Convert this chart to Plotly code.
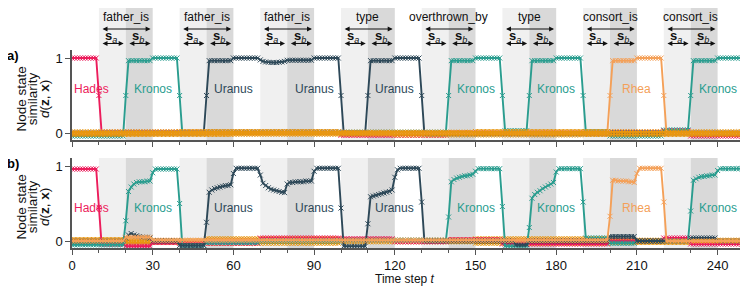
import plotly.graph_objects as go

# ---------------- data (time steps 0..250) ----------------
T = list(range(0, 251))

# run-length lists: (value, count) or single value or explicit list
HADES_A = [(1.0, 10), 0.5, (0.01, 89), (-0.03, 40), (0.0, 60), (0.01, 20), (0.03, 10), (-0.04, 21)]
KRONOS_A = [(-0.04, 20), 0.5, (0.965, 9), (1.0, 10), 0.5, (0.0, 9), (0.01, 90), 0.5, (0.965, 9), (1.0, 10),
            0.5, (0.03, 9), 0.5, (0.965, 9), (1.0, 10), 0.5, (0.02, 9), (-0.04, 20), (0.04, 10), 0.5,
            (0.965, 9), (1.0, 11)]
URANUS_A = [(0.0, 50), 0.5, (0.965, 9), (1.0, 10),
            [0.975, 0.955, 0.948, 0.943, 0.94, 0.94, 0.94, 0.943, 0.948, 0.955],
            (0.97, 10), (1.0, 10), 0.5, (0.0, 9), 0.5, (0.965, 9), (1.0, 10), 0.5, (-0.01, 69),
            (0.0, 10), (0.0, 41)]
RHEA_A = [(0.0, 200), 0.5, (0.965, 9), (1.0, 10), 0.5, (0.0, 30)]
OTHER1_A = [(0.015, 40), (0.02, 60), (0.01, 50), (0.02, 50), (0.015, 51)]
OTHER2_A = [(-0.02, 60), (-0.015, 60), (-0.025, 70), (-0.02, 61)]

HADES_B = [(0.96, 10), 0.45, (-0.04, 9), (-0.07, 10), (-0.02, 10), (-0.03, 30), (0.04, 30), (0.03, 20),
           (-0.01, 20), (0.02, 20), (-0.04, 40), (0.0, 20), (0.04, 10), (-0.04, 21)]
KRONOS_B = [(-0.05, 20), 0.27, 0.66, 0.72, 0.76, [0.78, 0.79, 0.79, 0.79, 0.80, 0.80], 0.91, (0.96, 9), 0.5,
            (-0.06, 9), (-0.02, 20), (0.0, 30), (0.01, 40), 0.32,
            [0.79, 0.82, 0.84, 0.85, 0.86, 0.87, 0.87, 0.88, 0.89], 0.93, (0.965, 9), 0.46, (-0.07, 9), 0.18,
            [0.57, 0.62, 0.65, 0.67, 0.70, 0.72, 0.74, 0.76, 0.78], 0.92, (0.965, 9), 0.52, (0.04, 9),
            (-0.03, 10), (0.0, 20), 0.40, [0.81, 0.83, 0.85, 0.86, 0.86, 0.87, 0.87, 0.88, 0.88], 0.94,
            (0.965, 10)]
URANUS_B = [(0.0, 20), [0.04, 0.08, 0.10, 0.08, 0.07, 0.06, 0.05, 0.05, 0.05, 0.04], (0.0, 10), (-0.06, 10),
            0.25, [0.65, 0.68, 0.70, 0.71, 0.72, 0.73, 0.74, 0.74, 0.75], 0.9, (0.97, 9),
            [0.88, 0.77, 0.74, 0.71, 0.69, 0.68, 0.67, 0.66, 0.65, 0.645], 0.76,
            [0.78, 0.78, 0.79, 0.79, 0.79, 0.79, 0.80, 0.80, 0.80], 0.93, (0.97, 9), 0.44, (-0.07, 9), 0.23,
            [0.59, 0.60, 0.61, 0.62, 0.63, 0.64, 0.65, 0.66, 0.68], 0.85, 0.95, (0.97, 8), 0.52, (0.0, 34),
            (-0.05, 5), (0.0, 30), (0.06, 10), (0.0, 20), (0.04, 10), (0.0, 11)]
RHEA_B = [(0.0, 20), (0.05, 10), (0.01, 170), 0.33, [0.81, 0.81, 0.80, 0.80, 0.80, 0.80, 0.79, 0.79, 0.78],
          0.9, (0.97, 9), 0.52, (0.0, 30)]
OTHER1_B = [(0.02, 30), (0.0, 20), (0.03, 50), (0.01, 50), (0.03, 50), (0.01, 51)]
OTHER2_B = [(-0.02, 50), (-0.03, 50), (-0.01, 50), (-0.03, 50), (-0.02, 51)]

RELATIONS = ["father_is", "father_is", "father_is", "type", "overthrown_by", "type", "consort_is", "consort_is"]
PERIOD_STARTS = [10, 40, 70, 100, 130, 160, 190, 220]
LABELS = ["Hades", "Kronos", "Uranus", "Uranus", "Uranus", "Kronos", "Kronos", "Rhea", "Kronos"]
LABEL_T = [7.3, 30, 60, 90, 120, 150, 180, 210, 240]
X_TICKS = [0, 30, 60, 90, 120, 150, 180, 210, 240]


def expand(runs):
    out = []
    for r in runs:
        if isinstance(r, tuple):
            out += [r[0]] * r[1]
        elif isinstance(r, list):
            out += r
        else:
            out.append(r)
    return out


COL = {"Hades": "#ec1c5b", "Kronos": "#2a9d8f", "Uranus": "#2d4858", "Rhea": "#f4a058", "other": "#e8960f"}
FONT = "Liberation Sans, Arial, Helvetica, sans-serif"

fig = go.Figure()


def add_series(y_runs, color, xa, ya, width=1.9):
    fig.add_trace(go.Scatter(
        x=T, y=expand(y_runs), mode="lines+markers", xaxis=xa, yaxis=ya,
        line=dict(color=color, width=width),
        marker=dict(symbol="x-thin", size=5, color=color, line=dict(width=1, color=color)),
        showlegend=False, hoverinfo="skip"))


# panel a
add_series(HADES_A, COL["Hades"], "x", "y")
add_series(KRONOS_A, COL["Kronos"], "x", "y")
add_series(URANUS_A, COL["Uranus"], "x", "y")
add_series(RHEA_A, COL["Rhea"], "x", "y")
add_series(OTHER1_A, COL["other"], "x", "y")
add_series(OTHER2_A, COL["other"], "x", "y")
# panel b
add_series(OTHER1_B, COL["other"], "x2", "y2")
add_series(OTHER2_B, COL["other"], "x2", "y2")
add_series(HADES_B, COL["Hades"], "x2", "y2")
add_series(KRONOS_B, COL["Kronos"], "x2", "y2")
add_series(URANUS_B, COL["Uranus"], "x2", "y2")
add_series(RHEA_B, COL["Rhea"], "x2", "y2")

# page is shown with an 8px body margin: window coords -> figure coords
OFF = 8
W, H = 748, 295
ML, MR, MT, MB = 64, 0, 42, 55
PW, PH = W - ML - MR, H - MT - MB
XR = [0, PW / 2.69]


def py(wy):  # window pixel y -> paper y
    return (H - MB - (wy - OFF)) / PH


def px(wx):  # window pixel x -> paper x
    return (wx - OFF - ML) / PW


A_DOM = [py(140), 1.0]
B_DOM = [0.0, py(158)]
YR = [-0.093, 1.107]

shapes = []
for s in PERIOD_STARTS:
    for (x0, x1, c) in [(s, s + 10, "#f0f0f0"), (s + 10, s + 20, "#d9d9d9")]:
        shapes.append(dict(type="rect", xref="x", yref="paper", x0=x0, x1=x1, y0=A_DOM[0], y1=py(8),
                           fillcolor=c, line=dict(width=0), layer="below"))
        shapes.append(dict(type="rect", xref="x2", yref="paper", x0=x0, x1=x1, y0=B_DOM[0], y1=B_DOM[1],
                           fillcolor=c, line=dict(width=0), layer="below"))

ann = []
txtc = "#111111"
for s, rel in zip(PERIOD_STARTS, RELATIONS):
    ann.append(dict(text=rel, x=s + 10, y=py(17), xref="x", yref="paper", showarrow=False,
                    font=dict(size=12, color=txtc, family=FONT), xanchor="center", yanchor="middle"))
    for (a0, a1, yy) in [(s + 0.8, s + 19.2, 29), (s + 0.8, s + 9.2, 43.5), (s + 10.8, s + 19.2, 43.5)]:
        ann.append(dict(text="", x=a1, y=py(yy), xref="x", yref="paper", ax=a0, axref="x", ay=0,
                        ayref="pixel", showarrow=True, arrowside="end+start", arrowhead=2, arrowsize=0.9,
                        arrowwidth=1.1, arrowcolor="#111111", standoff=0, startstandoff=0))
    ann.append(dict(text="<b>s</b><sub><i>a</i></sub>", x=s + 4.5, y=py(37), xref="x", yref="paper",
                    showarrow=False, font=dict(size=13, color=txtc, family=FONT), xanchor="center",
                    yanchor="middle"))
    ann.append(dict(text="<b>s</b><sub><i>b</i></sub>", x=s + 14.7, y=py(37), xref="x", yref="paper",
                    showarrow=False, font=dict(size=13, color=txtc, family=FONT), xanchor="center",
                    yanchor="middle"))

for lab, t in zip(LABELS, LABEL_T):
    ann.append(dict(text=lab, x=t, y=0.583, xref="x", yref="y", showarrow=False,
                    font=dict(size=12, color=COL[lab], family=FONT), xanchor="center", yanchor="middle"))
    ann.append(dict(text=lab, x=t, y=0.436, xref="x2", yref="y2", showarrow=False,
                    font=dict(size=12, color=COL[lab], family=FONT), xanchor="center", yanchor="middle"))

for lab, ypix in [("<b>a)</b>", 56), ("<b>b)</b>", 163)]:
    ann.append(dict(text=lab, x=px(13), y=py(ypix), xref="paper", yref="paper", showarrow=False,
                    font=dict(size=13, color="#000000", family=FONT), xanchor="center", yanchor="middle"))

for yc in [99, 207]:
    for txt, xpix in [("Node state", 20.5), ("similarity", 32.2),
                      ("<i>d</i>(<b>z</b>, <b>x</b>)", 44)]:
        ann.append(dict(text=txt, x=px(xpix), y=py(yc), xref="paper", yref="paper", showarrow=False,
                        textangle=-90, font=dict(size=13.5, color="#111111", family=FONT),
                        xanchor="center", yanchor="middle"))

ann.append(dict(text="Time step <i>t</i>", x=px(405), y=py(279), xref="paper", yref="paper",
                showarrow=False, font=dict(size=12, color="#111111", family=FONT),
                xanchor="center", yanchor="middle"))

axline = "#555555"
xcommon = dict(range=XR, showgrid=False, zeroline=False, showline=True, linecolor=axline, linewidth=1.5,
               ticks="outside", ticklen=5, tickwidth=1, tickcolor=axline, tickvals=X_TICKS,
               minor=dict(dtick=10, tick0=0, ticks="outside", ticklen=3, tickcolor=axline, tickwidth=1),
               tickfont=dict(size=13, color="#111111", family=FONT))
ycommon = dict(range=YR, showgrid=False, zeroline=False, showline=True, linecolor=axline, linewidth=1.5,
               ticks="outside", ticklen=5, tickwidth=1, tickcolor=axline, tickvals=[0, 1],
               tickfont=dict(size=13, color="#111111", family=FONT))

fig.update_layout(
    width=W, height=H, margin=dict(l=ML, r=MR, t=MT, b=MB, autoexpand=False),
    paper_bgcolor="white", plot_bgcolor="white",
    font=dict(family=FONT, size=12, color="#111111"),
    xaxis=dict(domain=[0, 1], anchor="y", showticklabels=False, **xcommon),
    yaxis=dict(domain=A_DOM, anchor="x", **ycommon),
    xaxis2=dict(domain=[0, 1], anchor="y2", showticklabels=True, **xcommon),
    yaxis2=dict(domain=B_DOM, anchor="x2", **ycommon),
    shapes=shapes, annotations=ann, showlegend=False,
)

fig.write_html("out.html")
